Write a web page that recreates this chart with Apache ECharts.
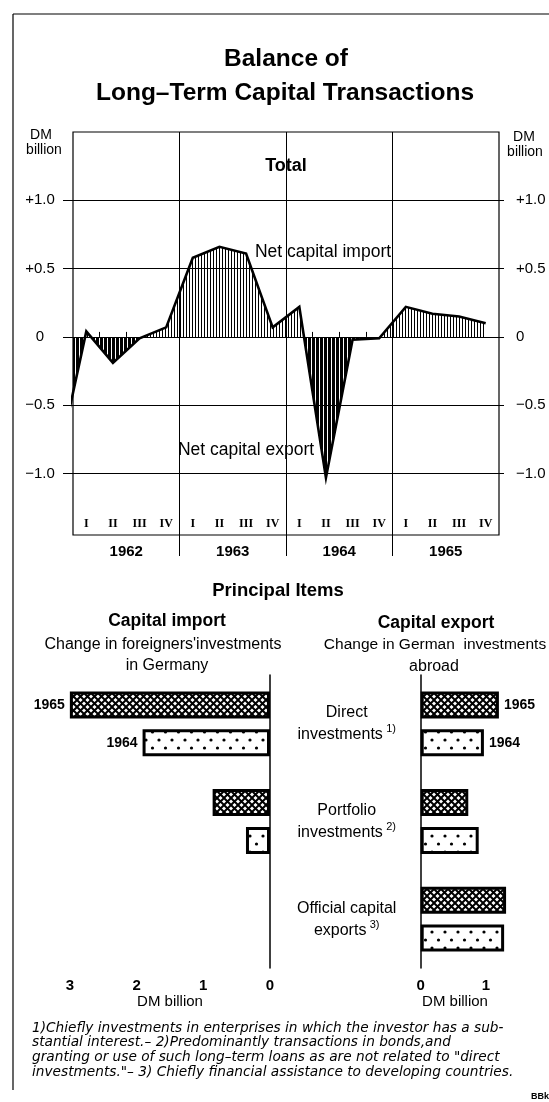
<!DOCTYPE html>
<html>
<head>
<meta charset="utf-8">
<title>Balance of Long-Term Capital Transactions</title>
<script src="https://cdn.jsdelivr.net/npm/echarts@6/dist/echarts.min.js"></script>
<style>
  html, body { margin: 0; padding: 0; background: #fff; }
  #chart { width: 549px; height: 1102px; }
</style>
</head>
<body>
<div id="chart"></div>
<script>
// ---------------------------------------------------
// Data (DM billion)
// ---------------------------------------------------
const years = ["1962", "1963", "1964", "1965"];
const quarterLabels = ["I", "II", "III", "IV"];
// net balance per quarter, Q1 1962 .. Q4 1965
const totalBalance = [0.04, -0.19, -0.01, 0.07, 0.58, 0.66, 0.61, 0.07,
                      0.22, -1.03, -0.02, -0.01, 0.22, 0.17, 0.15, 0.10];
// Q4 1961 - only the tail of this segment shows at the left edge
const balanceQ4_1961 = -0.86;
const totalTicks = [-1, -0.5, 0, 0.5, 1];

const itemLabels = ["Direct\ninvestments", "Portfolio\ninvestments", "Official capital\nexports"];
const itemNotes = ["1)", "2)", "3)"];
const importBars1965 = [3.0, 0.86, 0];
const importBars1964 = [1.91, 0.36, 0];
const exportBars1965 = [1.20, 0.73, 1.31];
const exportBars1964 = [0.97, 0.89, 1.28];
const importTicks = [0, 1, 2, 3];
const exportTicks = [0, 1];

const footnotes = [
  "1)Chiefly investments in enterprises in which the investor has a sub-",
  "stantial interest.\u2013 2)Predominantly transactions in bonds,and",
  "granting or use of such long\u2013term loans as are not related to \"direct",
  "investments.\"\u2013 3) Chiefly financial assistance to developing countries."
];

// ---------------------------------------------------
// Helpers
// ---------------------------------------------------
const FONT = "'Liberation Sans', Arial, sans-serif";
const NOTE_FONT = "'DejaVu Sans', sans-serif";

function makePattern(w, h, draw) {
  const c = document.createElement("canvas");
  c.width = w;
  c.height = h;
  const ctx = c.getContext("2d");
  ctx.fillStyle = "#fff";
  ctx.fillRect(0, 0, w, h);
  ctx.fillStyle = "#000";
  ctx.strokeStyle = "#000";
  draw(ctx);
  return { image: c, repeat: "repeat" };
}

const lightHatch = makePattern(3, 4, ctx => ctx.fillRect(0, 0, 1, 4));
const darkHatch = makePattern(4, 4, ctx => ctx.fillRect(0, 0, 3, 4));
const crossHatch = makePattern(7, 7, ctx => {
  ctx.lineWidth = 2;
  ctx.beginPath();
  ctx.moveTo(-1, -1); ctx.lineTo(8, 8);
  ctx.moveTo(8, -1); ctx.lineTo(-1, 8);
  ctx.stroke();
});
const dotted = makePattern(13, 16, ctx => {
  ctx.beginPath(); ctx.arc(3, 4, 1.6, 0, Math.PI * 2); ctx.fill();
  ctx.beginPath(); ctx.arc(9.5, 12, 1.6, 0, Math.PI * 2); ctx.fill();
});

const balancePoints = [[-0.5, balanceQ4_1961]].concat(totalBalance.map((v, i) => [i + 0.5, v]));

function fmtTotal(v) {
  if (v > 0) return "+" + v.toFixed(1);
  if (v < 0) return "\u2212" + Math.abs(v).toFixed(1);
  return "0";
}

// first item carries the year label, empty items draw no outline
function barData(values, year, side) {
  return values.map((v, i) => {
    const item = { value: v };
    if (i === 0) item.label = { show: true, position: side, formatter: year };
    if (v === 0) item.itemStyle = { borderWidth: 0 };
    return item;
  });
}

function text(x, y, str, size, extra) {
  return {
    type: "text",
    silent: true,
    style: Object.assign({
      x: x, y: y, text: str, fill: "#000",
      font: `${size}px ${FONT}`,
      align: "center", verticalAlign: "middle"
    }, extra || {})
  };
}

const hidden = { show: false };
const quarterAxis = { type: "value", min: 0, max: 16, show: false };

const barStyle = pattern => ({ color: pattern, borderColor: "#000", borderWidth: 3 });
const barLabel = { color: "#000", fontSize: 14, fontWeight: "bold", fontFamily: FONT, distance: 5 };
const BAR_W = 27;
const BAR_GAP = "40%";

// ---------------------------------------------------
// Chart
// ---------------------------------------------------
const chart = echarts.init(document.getElementById("chart"));

chart.setOption({
  animation: false,
  backgroundColor: "#fff",
  textStyle: { fontFamily: FONT, color: "#000" },
  grid: [
    { left: 73, right: 50, top: 132, bottom: 567, show: true, borderColor: "#000", borderWidth: 1.2 }, // frame
    { left: 73, right: 50, top: 132, bottom: 765.1 },   // positive fill
    { left: 73, right: 50, top: 336.9, bottom: 567 },   // negative fill
    { left: 63, right: 45, top: 132, bottom: 567 },     // gridlines + labels
    { left: 73, right: 50, top: 132, bottom: 546 },     // year dividers
    { left: 32.5, right: 279, top: 675, bottom: 134 },  // capital import
    { left: 420.7, right: 12.3, top: 675, bottom: 134 } // capital export
  ],
  xAxis: [
    {
      gridIndex: 0, type: "value", min: 0, max: 16, position: "bottom",
      axisLine: hidden, splitLine: hidden,
      axisTick: {
        show: true, inside: true, length: 5,
        customValues: [1, 2, 3, 5, 6, 7, 9, 10, 11, 13, 14, 15],
        lineStyle: { color: "#000", width: 1 }
      },
      axisLabel: {
        inside: true, margin: 5,
        customValues: totalBalance.map((v, i) => i + 0.5),
        formatter: v => quarterLabels[Math.floor(v) % 4],
        fontFamily: "'Liberation Serif', serif", fontWeight: "bold", fontSize: 12, color: "#000"
      }
    },
    {
      gridIndex: 0, type: "value", min: 0, max: 16, position: "bottom",
      axisLine: hidden, axisTick: hidden, splitLine: hidden,
      axisLabel: {
        margin: 9, customValues: years.map((y, i) => i * 4 + 2),
        formatter: v => years[Math.floor(v / 4)],
        fontSize: 15, fontWeight: "bold", color: "#000"
      }
    },
    Object.assign({ gridIndex: 1 }, quarterAxis),
    Object.assign({ gridIndex: 2 }, quarterAxis),
    { gridIndex: 3, type: "value", min: 0, max: 1, show: false },
    Object.assign({ gridIndex: 4 }, quarterAxis),
    {
      gridIndex: 5, type: "value", min: 0, max: 3.56, inverse: true, position: "bottom",
      splitLine: hidden,
      axisLine: { lineStyle: { color: "#000", width: 1.5 } },
      axisTick: { inside: true, length: 7, customValues: [1, 2, 3], lineStyle: { color: "#000", width: 1.2 } },
      axisLabel: { customValues: importTicks, margin: 10, fontSize: 15, fontWeight: "bold", color: "#000" }
    },
    {
      gridIndex: 5, type: "value", min: 0, max: 3.56, inverse: true, position: "bottom",
      splitLine: hidden, axisLine: hidden, axisLabel: hidden,
      axisTick: { length: 4, customValues: [1, 2, 3], lineStyle: { color: "#000", width: 1.2 } }
    },
    {
      gridIndex: 6, type: "value", min: 0, max: 1.78, position: "bottom",
      splitLine: hidden,
      axisLine: { lineStyle: { color: "#000", width: 1.5 } },
      axisTick: { inside: true, length: 7, customValues: [1], lineStyle: { color: "#000", width: 1.2 } },
      axisLabel: { customValues: exportTicks, margin: 10, fontSize: 15, fontWeight: "bold", color: "#000" }
    },
    {
      gridIndex: 6, type: "value", min: 0, max: 1.78, position: "bottom",
      splitLine: hidden, axisLine: hidden, axisLabel: hidden,
      axisTick: { length: 4, customValues: [1], lineStyle: { color: "#000", width: 1.2 } }
    }
  ],
  yAxis: [
    { gridIndex: 0, type: "value", min: -1.45, max: 1.5, show: false },
    { gridIndex: 1, type: "value", min: 0, max: 1.5, show: false },
    { gridIndex: 2, type: "value", min: -1.45, max: 0, show: false },
    {
      gridIndex: 3, type: "value", min: -1.45, max: 1.5, position: "left",
      axisLine: hidden, axisTick: hidden, splitLine: hidden,
      axisLabel: {
        customValues: totalTicks, formatter: fmtTotal, align: "center", margin: 23,
        fontSize: 15, color: "#000"
      }
    },
    {
      gridIndex: 3, type: "value", min: -1.45, max: 1.5, position: "right",
      axisLine: hidden, axisTick: hidden, splitLine: hidden,
      axisLabel: {
        customValues: totalTicks, formatter: fmtTotal, align: "left", margin: 12,
        fontSize: 15, color: "#000"
      }
    },
    { gridIndex: 4, type: "value", min: 0, max: 1, show: false },
    {
      gridIndex: 5, type: "category", data: itemLabels, inverse: true, position: "right",
      axisLine: { lineStyle: { color: "#000", width: 1.5 } },
      axisTick: hidden, axisLabel: hidden, splitLine: hidden
    },
    {
      gridIndex: 6, type: "category", data: itemLabels, inverse: true, position: "left",
      axisLine: { lineStyle: { color: "#000", width: 1.5 } },
      axisTick: hidden, splitLine: hidden,
      axisLabel: {
        align: "center", margin: 74,
        formatter: (v, i) => `{m|${v}} {sup|${itemNotes[i]}}`,
        rich: {
          m: { fontSize: 16, lineHeight: 22, color: "#000", fontFamily: FONT },
          sup: { fontSize: 11, lineHeight: 22, verticalAlign: "top", color: "#000", fontFamily: FONT }
        }
      }
    }
  ],
  series: [
    {
      name: "import fill", type: "line", xAxisIndex: 2, yAxisIndex: 1,
      data: balancePoints, symbol: "none", silent: true, clip: true, z: 2,
      lineStyle: { width: 0 },
      areaStyle: { color: lightHatch, opacity: 1 }
    },
    {
      name: "export fill", type: "line", xAxisIndex: 3, yAxisIndex: 2,
      data: balancePoints, symbol: "none", silent: true, clip: true, z: 2,
      lineStyle: { width: 0 },
      areaStyle: { color: darkHatch, opacity: 1 }
    },
    {
      name: "Total", type: "line", xAxisIndex: 0, yAxisIndex: 0,
      data: balancePoints, symbol: "none", silent: true, clip: true, z: 4,
      lineStyle: { color: "#000", width: 2.6, join: "miter" }
    },
    {
      name: "gridlines", type: "line", xAxisIndex: 4, yAxisIndex: 3, data: [], z: 1,
      markLine: {
        silent: true, symbol: "none", label: { show: false },
        lineStyle: { color: "#000", width: 1, type: "solid" },
        data: totalTicks.map(v => ({ yAxis: v }))
      }
    },
    {
      name: "year dividers", type: "line", xAxisIndex: 5, yAxisIndex: 5, data: [], z: 1,
      markLine: {
        silent: true, symbol: "none", label: { show: false },
        lineStyle: { color: "#000", width: 1, type: "solid" },
        data: [4, 8, 12].map(v => ({ xAxis: v }))
      }
    },
    {
      name: "1965", type: "bar", xAxisIndex: 6, yAxisIndex: 6,
      data: barData(importBars1965, "1965", "left"),
      barWidth: BAR_W, barGap: BAR_GAP, itemStyle: barStyle(crossHatch), label: barLabel
    },
    {
      name: "1964", type: "bar", xAxisIndex: 6, yAxisIndex: 6,
      data: barData(importBars1964, "1964", "left"),
      barWidth: BAR_W, barGap: BAR_GAP, itemStyle: barStyle(dotted), label: barLabel
    },
    {
      name: "1965", type: "bar", xAxisIndex: 8, yAxisIndex: 7,
      data: barData(exportBars1965, "1965", "right"),
      barWidth: BAR_W, barGap: BAR_GAP, itemStyle: barStyle(crossHatch), label: barLabel
    },
    {
      name: "1964", type: "bar", xAxisIndex: 8, yAxisIndex: 7,
      data: barData(exportBars1964, "1964", "right"),
      barWidth: BAR_W, barGap: BAR_GAP, itemStyle: barStyle(dotted), label: barLabel
    }
  ],
  graphic: [
    // outer border of the page
    { type: "line", silent: true, shape: { x1: 13, y1: 14, x2: 549, y2: 14 }, style: { stroke: "#000", lineWidth: 1.2 } },
    { type: "line", silent: true, shape: { x1: 13, y1: 14, x2: 13, y2: 1090 }, style: { stroke: "#000", lineWidth: 1.2 } },

    text(286, 59, "Balance of", 24, { font: `bold 24.5px ${FONT}` }),
    text(285, 93, "Long\u2013Term Capital Transactions", 24, { font: `bold 24.5px ${FONT}` }),

    text(41, 135, "DM", 14),
    text(44, 150, "billion", 14),
    text(524, 137, "DM", 14),
    text(525, 152, "billion", 14),

    text(286, 166, "Total", 18, { font: `bold 18px ${FONT}` }),
    text(323, 252, "Net capital import", 17.5),
    text(246, 450, "Net capital export", 17.5),

    text(278, 591, "Principal Items", 18, { font: `bold 18.5px ${FONT}` }),
    text(167, 621, "Capital import", 17, { font: `bold 17.5px ${FONT}` }),
    text(436, 623, "Capital export", 17, { font: `bold 17.5px ${FONT}` }),
    text(163, 645, "Change in foreigners'investments", 16),
    text(167, 666, "in Germany", 16),
    text(435, 645, "Change in German  investments", 15.5),
    text(434, 667, "abroad", 16),

    text(170, 1002, "DM billion", 15),
    text(455, 1002, "DM billion", 15),

    ...footnotes.map((line, i) =>
      text(32, 1028 + i * 14.7, line, 14, { align: "left", font: `italic 13.7px ${NOTE_FONT}` })
    ),
    text(540, 1097, "BBk", 9, { font: `bold 9px ${FONT}` })
  ]
});

window.addEventListener("resize", chart.resize);
</script>
</body>
</html>
